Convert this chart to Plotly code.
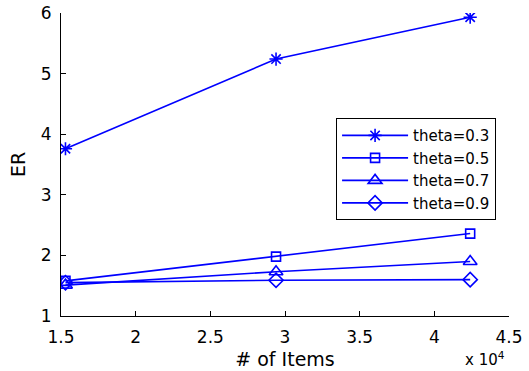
import plotly.graph_objects as go

# Number of items (raw counts) and ER for each theta setting
items = [15300, 29400, 42400]
er_theta_03 = [3.76, 5.24, 5.93]
er_theta_05 = [1.58, 1.98, 2.36]
er_theta_07 = [1.51, 1.73, 1.90]
er_theta_09 = [1.55, 1.59, 1.60]

series_names = ["theta=0.3", "theta=0.5", "theta=0.7", "theta=0.9"]
series_values = [er_theta_03, er_theta_05, er_theta_07, er_theta_09]
series_symbols = ["asterisk-open", "square-open", "triangle-up-open", "diamond-open"]
series_sizes = [11, 9, 12, 11]

x_tick_vals = [15000, 20000, 25000, 30000, 35000, 40000, 45000]
x_tick_text = ["1.5", "2", "2.5", "3", "3.5", "4", "4.5"]
y_tick_vals = [1, 2, 3, 4, 5, 6]

FONT = "DejaVu Sans"
BLUE = "rgb(0,0,255)"

fig = go.Figure()
for name, vals, sym, sz in zip(series_names, series_values, series_symbols, series_sizes):
    fig.add_trace(go.Scatter(
        x=items, y=vals, name=name, mode="lines+markers",
        line=dict(color=BLUE, width=1.6),
        marker=dict(symbol=sym, size=sz, color=BLUE,
                    line=dict(color=BLUE, width=1.6)),
    ))

axis_common = dict(
    showline=True, linecolor="black", linewidth=1,
    ticks="inside", ticklen=5, tickcolor="black", tickwidth=1,
    showgrid=False, zeroline=False, mirror=False, automargin=False,
    tickfont=dict(family=FONT, size=17, color="black"),
)

fig.update_layout(
    width=529, height=371,
    margin=dict(l=61, r=20, t=13, b=55),
    paper_bgcolor="white", plot_bgcolor="white",
    font=dict(family=FONT, color="black"),
    showlegend=True,
    legend=dict(
        x=0.614, y=0.653, xanchor="left", yanchor="top",
        bgcolor="white", bordercolor="black", borderwidth=1,
        font=dict(family=FONT, size=15, color="black"),
        itemwidth=66, tracegroupgap=0,
    ),
    xaxis=dict(
        range=[15000, 45000], tickvals=x_tick_vals, ticktext=x_tick_text,
        title=dict(text="# of Items", font=dict(family=FONT, size=19), standoff=6),
        ticklabelstandoff=6,
        **axis_common,
    ),
    yaxis=dict(
        range=[1, 6], tickvals=y_tick_vals,
        title=dict(text="ER", font=dict(family=FONT, size=19), standoff=10),
        ticklabelstandoff=5,
        **axis_common,
    ),
)

fig.add_annotation(
    text="x 10<sup>4</sup>", xref="paper", yref="paper",
    x=1.0, y=0, xanchor="right", yanchor="top", yshift=-31, xshift=-2,
    showarrow=False, font=dict(family=FONT, size=15, color="black"),
)

fig.write_html("out.html")
